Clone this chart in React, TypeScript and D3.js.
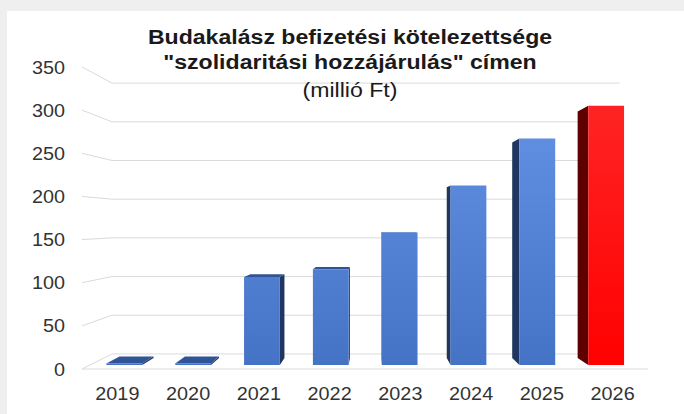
import React from "react";
import * as d3 from "d3";

const years = ["2019", "2020", "2021", "2022", "2023", "2024", "2025", "2026"];
const values = [2, 2, 105, 114, 158, 214, 270, 309];
const yTicks = [0, 50, 100, 150, 200, 250, 300, 350];
const titleLines = ["Budakalász befizetési kötelezettsége", "\"szolidaritási hozzájárulás\" címen"];
const subtitle = "(millió Ft)";

const W = 684;
const H = 414;
const VX = 373;
const VY = 223;
const S_BACK = 0.897;
const S_FRONT_BAR = 0.973;
const S_BACK_BAR = 0.925;

export default function App() {
  const x = d3.scaleBand<string>().domain(years).range([82, 648]).paddingInner(0.48).paddingOuter(0.24);
  const y = d3.scaleLinear().domain([0, 350]).range([369, 67]);
  const proj = (xf: number, yf: number, s: number): [number, number] => [VX + (xf - VX) * s, VY + (yf - VY) * s];
  const pts = (arr: [number, number][]) => arr.map((p) => p.join(",")).join(" ");
  const line = d3.line();

  const x0Plot = 82;
  const x1Plot = 648;

  return (
    <svg width={W} height={H} style={{ position: "absolute", left: 0, top: 0 }} fontFamily="'Liberation Sans', Arial, sans-serif">
      <defs>
        <linearGradient id="blueG" gradientUnits="userSpaceOnUse" x1="0" y1="100" x2="0" y2="370">
          <stop offset="0" stopColor="#6493e6" />
          <stop offset="1" stopColor="#4472c4" />
        </linearGradient>
        <linearGradient id="redG" gradientUnits="userSpaceOnUse" x1="0" y1="100" x2="0" y2="370">
          <stop offset="0" stopColor="#ff2424" />
          <stop offset="1" stopColor="#ff0000" />
        </linearGradient>
      </defs>
      <rect x={0} y={0} width={W} height={H} fill="#efefef" />
      <rect x={7} y={11} width={W - 7} height={H - 11} fill="#ffffff" />

      {/* gridlines */}
      {yTicks.map((t) => {
        const a = proj(x0Plot, y(t), 1);
        const b = proj(x0Plot, y(t), S_BACK);
        const c = proj(x1Plot, y(t), S_BACK);
        return (
          <g key={t}>
            <path d={line([a, b]) || ""} stroke="#dadada" strokeWidth={1} fill="none" />
            <path d={line([b, c]) || ""} stroke="#dadada" strokeWidth={1} fill="none" />
          </g>
        );
      })}
      <path d={line([proj(x0Plot, y(0), 1), proj(x1Plot, y(0), 1)]) || ""} stroke="#dadada" strokeWidth={1} fill="none" />

      {/* bars */}
      {years.map((yr, i) => {
        const v = values[i];
        const bx0 = x(yr)!;
        const bx1 = bx0 + x.bandwidth();
        const yb = y(0);
        const yt = y(v);
        const isRed = yr === "2026";
        const frontFill = isRed ? "url(#redG)" : "url(#blueG)";
        const sideFill = isRed ? "#5e0000" : "#1f3661";
        const topFill = isRed ? "#c00000" : "#2f5597";
        const front: [number, number][] = [proj(bx0, yb, S_FRONT_BAR), proj(bx1, yb, S_FRONT_BAR), proj(bx1, yt, S_FRONT_BAR), proj(bx0, yt, S_FRONT_BAR)];
        let side: [number, number][] | null = null;
        if (bx0 > VX) {
          side = [proj(bx0, yb, S_FRONT_BAR), proj(bx0, yb, S_BACK_BAR), proj(bx0, yt, S_BACK_BAR), proj(bx0, yt, S_FRONT_BAR)];
        } else if (bx1 < VX) {
          side = [proj(bx1, yb, S_FRONT_BAR), proj(bx1, yb, S_BACK_BAR), proj(bx1, yt, S_BACK_BAR), proj(bx1, yt, S_FRONT_BAR)];
        }
        let top: [number, number][] | null = null;
        if (yt > VY) {
          top = [proj(bx0, yt, S_FRONT_BAR), proj(bx1, yt, S_FRONT_BAR), proj(bx1, yt, S_BACK_BAR), proj(bx0, yt, S_BACK_BAR)];
        }
        return (
          <g key={yr}>
            {side && <polygon points={pts(side)} fill={sideFill} />}
            {top && <polygon points={pts(top)} fill={topFill} />}
            <polygon points={pts(front)} fill={frontFill} />
          </g>
        );
      })}

      {/* y tick labels */}
      {yTicks.map((t) => (
        <text key={t} transform={`translate(65,${y(t) + 6.5}) scale(1.1,1)`} textAnchor="end" fontSize={18} fill="#333333">
          {t}
        </text>
      ))}

      {/* x labels */}
      {years.map((yr) => (
        <text key={yr} transform={`translate(${x(yr)! + x.bandwidth() / 2},399.5) scale(1.1,1)`} textAnchor="middle" fontSize={18} fill="#333333">
          {yr}
        </text>
      ))}

      {/* title */}
      <text transform={`translate(350,44) scale(1.1,1)`} textAnchor="middle" fontSize={21} fontWeight="bold" fill="#1a1a1a">
        {titleLines[0]}
      </text>
      <text transform={`translate(350,69) scale(1.1,1)`} textAnchor="middle" fontSize={21} fontWeight="bold" fill="#1a1a1a">
        {titleLines[1]}
      </text>
      <text transform={`translate(350,97) scale(1.1,1)`} textAnchor="middle" fontSize={21} fill="#1a1a1a">
        {subtitle}
      </text>
    </svg>
  );
}
